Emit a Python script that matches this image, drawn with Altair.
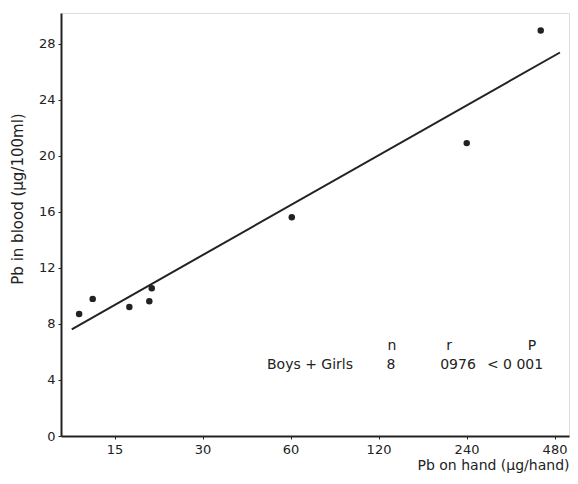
import altair as alt
import pandas as pd

hand_pb = [11.35, 12.63, 16.86, 19.73, 20.11, 60.6, 240.4, 430.6]
blood_pb = [8.71, 9.79, 9.21, 9.62, 10.55, 15.62, 20.91, 28.95]
fit_x = [10.71, 501]
fit_y = [7.62, 27.38]
x_ticks = [15, 30, 60, 120, 240, 480]
y_ticks = [0, 4, 8, 12, 16, 20, 24, 28]

pts = pd.DataFrame({"x": hand_pb, "y": blood_pb})
fit = pd.DataFrame({"x": fit_x, "y": fit_y})

FONT = "DejaVu Sans"

xs = alt.Scale(type="log", base=2, domain=[9.84, 538], nice=False)
ys = alt.Scale(domain=[0, 30.2], nice=False)

xax = alt.Axis(values=x_ticks, title="Pb on hand (μg/hand)", grid=False,
               domainColor="#222", domainWidth=2, tickColor="#222", tickSize=3,
               labelFont=FONT, labelFontSize=13, labelColor="#222", labelPadding=4,
               titleFont=FONT, titleFontSize=14, titleFontWeight="normal", titleColor="#222",
               titleAnchor="end", titlePadding=2)
yax = alt.Axis(values=y_ticks, title=None, grid=False,
               domainColor="#222", domainWidth=2, tickColor="#222", tickSize=3,
               labelFont=FONT, labelFontSize=13, labelColor="#222", labelPadding=3)

line = alt.Chart(fit).mark_line(color="#222", strokeWidth=2).encode(
    x=alt.X("x:Q", scale=xs, axis=xax),
    y=alt.Y("y:Q", scale=ys, axis=yax),
)
points = alt.Chart(pts).mark_circle(color="#222", size=42, opacity=1).encode(
    x=alt.X("x:Q", scale=xs),
    y=alt.Y("y:Q", scale=ys),
)

ann_text = ["n", "r", "P", "Boys + Girls", "8", "0976", "< 0 001"]
ann = pd.DataFrame({"t": ann_text})
ann["px"] = [331, 388, 471, 249, 330, 397, 454]
ann["py"] = [333, 333, 333, 352, 352, 352, 352]
annotation = alt.Chart(ann).mark_text(font=FONT, fontSize=14, color="#222", align="center",
                                      baseline="middle").encode(
    x=alt.X("px:Q", scale=None), y=alt.Y("py:Q", scale=None), text="t:N"
)

ytitle = alt.Chart(pd.DataFrame({"t": ["Pb in blood (μg/100ml)"]})).mark_text(
    font=FONT, fontSize=15, color="#222", angle=270, align="center", baseline="middle"
).encode(x=alt.value(-43), y=alt.value(186), text="t:N")

chart = alt.layer(line, points, annotation, ytitle).properties(
    width=508, height=423,
    autosize=alt.AutoSizeParams(type="none"),
    padding={"left": 53, "top": 5, "right": 1, "bottom": 40},
).configure_view(stroke=None).configure(background="white")

chart.save("out.html", embed_options={"renderer": "svg", "actions": False})
